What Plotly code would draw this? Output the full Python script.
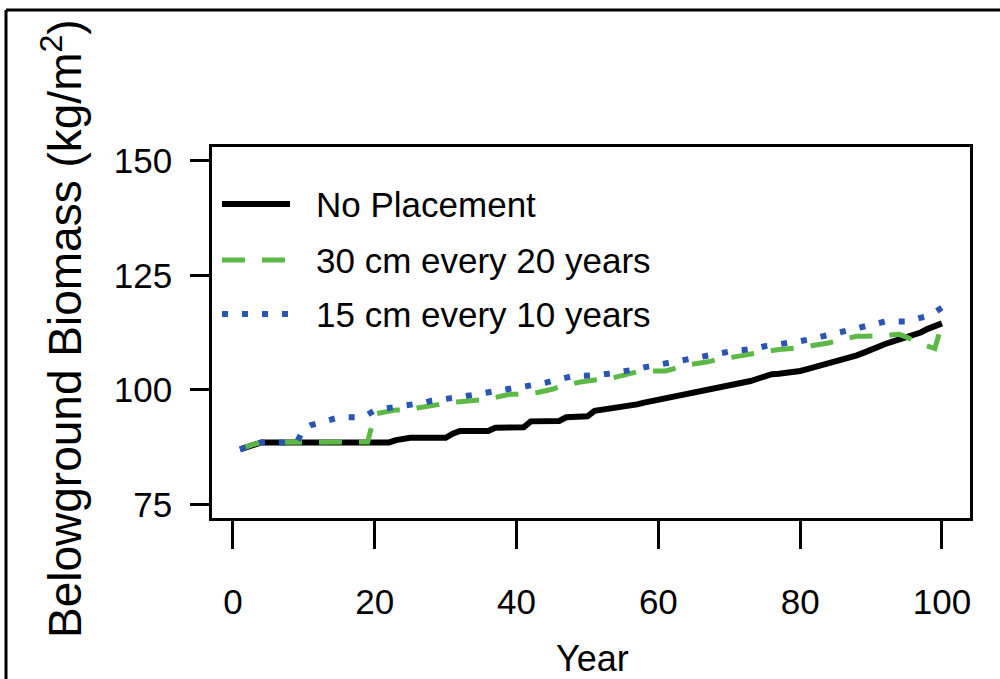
import plotly.graph_objects as go

years = list(range(1, 101))

no_placement = [
    87.0, 87.6, 88.1, 88.5, 88.5, 88.5, 88.5, 88.5, 88.5, 88.5,
    88.5, 88.5, 88.5, 88.5, 88.5, 88.5, 88.5, 88.5, 88.5, 88.5,
    88.5, 88.5, 89.0, 89.4, 89.5, 89.5, 89.5, 89.5, 89.5, 89.5,
    90.4, 91.0, 91.0, 91.0, 91.0, 91.0, 91.7, 91.7, 91.7, 91.7,
    91.8, 93.1, 93.1, 93.1, 93.1, 93.2, 94.0, 94.0, 94.0, 94.2,
    95.4, 95.6, 95.8, 96.0, 96.2, 96.4, 96.8, 97.2, 97.5, 97.8,
    98.2, 98.6, 98.9, 99.2, 99.5, 99.7, 99.9, 100.1, 100.4, 100.8,
    101.2, 101.6, 101.9, 102.4, 103.0, 103.4, 103.5, 103.6, 103.8, 104.1,
    104.5, 104.9, 105.3, 105.8, 106.3, 106.7, 107.1, 107.5, 108.1, 108.8,
    109.5, 110.0, 110.5, 111.0, 111.4, 111.8, 112.5, 113.3, 114.0, 114.5,
]

cm30_every20 = [
    87.0, 87.6, 88.1, 88.5, 88.5, 88.5, 88.5, 88.5, 88.5, 88.5,
    88.5, 88.5, 88.5, 88.5, 88.5, 88.5, 88.5, 88.5, 88.6, 94.7,
    95.0, 95.3, 95.6, 95.6, 95.6, 96.0, 96.3, 96.6, 96.9, 97.2,
    97.3, 97.4, 97.5, 97.6, 97.8, 97.9, 98.3, 98.7, 99.0, 99.0,
    99.0, 99.2, 99.4, 99.7, 100.1, 100.6, 101.0, 101.3, 101.7, 101.9,
    102.2, 102.3, 102.4, 102.8, 103.3, 103.7, 103.9, 104.1, 104.1, 104.1,
    104.1, 104.5, 105.1, 105.4, 105.6, 105.8, 106.1, 106.5, 106.7, 107.0,
    107.3, 107.5, 107.8, 108.1, 108.3, 108.6, 108.8, 108.9, 109.0, 109.2,
    109.4, 109.7, 109.9, 110.2, 110.6, 111.0, 111.4, 111.7, 111.7, 111.7,
    111.7, 111.8, 112.0, 112.1, 111.5, 110.6, 110.0, 109.5, 109.0, 114.4,
]

cm15_every10 = [
    87.0, 87.6, 88.1, 88.5, 88.5, 88.5, 88.5, 88.5, 88.5, 91.5,
    92.3, 92.7, 93.2, 93.7, 94.0, 94.0, 94.0, 94.0, 94.6, 95.5,
    95.8, 96.0, 96.1, 96.4, 96.6, 96.9, 97.2, 97.6, 97.9, 98.0,
    98.2, 98.4, 98.7, 99.0, 99.2, 99.5, 99.7, 99.9, 100.2, 100.4,
    100.6, 100.8, 101.1, 101.5, 101.9, 102.3, 102.7, 103.0, 103.0, 103.0,
    103.0, 103.3, 103.5, 103.7, 104.0, 104.2, 104.5, 104.9, 105.2, 105.4,
    105.7, 106.0, 106.3, 106.7, 107.0, 107.3, 107.6, 107.8, 108.1, 108.4,
    108.6, 108.7, 108.8, 109.1, 109.5, 109.8, 110.0, 110.2, 110.4, 110.6,
    110.8, 111.2, 111.6, 112.0, 112.4, 112.8, 113.1, 113.4, 113.7, 114.1,
    114.5, 114.9, 114.9, 114.9, 114.9, 115.3, 115.7, 116.1, 116.9, 117.9,
]

series_names = ["No Placement", "30 cm every 20 years", "15 cm every 10 years"]
x_ticks = [0, 20, 40, 60, 80, 100]
y_ticks = [75, 100, 125, 150]

BLACK = "#000000"
GREEN = "#5DB946"
BLUE = "#2A55B2"
FONT = "Liberation Sans, Arial, sans-serif"
FS = 35

fig = go.Figure()
styles = [
    dict(color=BLACK, width=6, dash="solid"),
    dict(color=GREEN, width=5, dash="23px,17px"),
    dict(color=BLUE, width=6, dash="6px,14px"),
]
for name, vals, st in zip(series_names, [no_placement, cm30_every20, cm15_every10], styles):
    fig.add_trace(go.Scatter(x=years, y=vals, mode="lines", name=name, line=st,
                             showlegend=False))

W, H = 1000, 679
L, R, T, B = 212, 30, 147, 161
pw, ph = W - L - R, H - T - B

def px(x):
    return (x - L) / pw

def py(y):
    return (H - B - y) / ph

shapes = []
annotations = []
# legend (manual, R-style, no box)
leg_rows = [204, 260, 314]
for name, st, ry in zip(series_names, styles, leg_rows):
    shapes.append(dict(type="line", xref="paper", yref="paper",
                       x0=px(222), x1=px(290), y0=py(ry), y1=py(ry),
                       line=dict(color=st["color"], width=st["width"], dash=st["dash"])))
    annotations.append(dict(text=name, xref="paper", yref="paper", x=px(314), y=py(ry),
                            xanchor="left", yanchor="middle", showarrow=False,
                            font=dict(family=FONT, size=FS, color="black")))

# outer frame (top and left edges of the cropped figure)
shapes.append(dict(type="line", xref="paper", yref="paper", x0=px(6), x1=px(1005),
                   y0=py(10), y1=py(10), line=dict(color="black", width=3)))
shapes.append(dict(type="line", xref="paper", yref="paper", x0=px(6), x1=px(6),
                   y0=py(10), y1=py(690), line=dict(color="black", width=3)))

annotations.append(dict(text="Year", xref="paper", yref="paper", x=px(592), y=py(658),
                        xanchor="center", yanchor="middle", showarrow=False,
                        font=dict(family=FONT, size=FS + 1, color="black")))
annotations.append(dict(text="Belowground Biomass (kg/m<sup>2</sup>)", xref="paper", yref="paper",
                        x=px(62), y=py(329), xanchor="center", yanchor="middle",
                        textangle=-90, showarrow=False,
                        font=dict(family=FONT, size=46, color="black")))

fig.update_layout(
    width=W, height=H,
    margin=dict(l=L, r=R, t=T, b=B, pad=0),
    paper_bgcolor="white", plot_bgcolor="white",
    shapes=shapes, annotations=annotations,
    showlegend=False,
    xaxis=dict(range=[-2.96, 103.96], tickvals=x_ticks, ticktext=[str(v) for v in x_ticks],
               showgrid=False, zeroline=False, showline=True, mirror=True,
               linecolor="black", linewidth=2.5, ticks="outside", ticklen=28,
               tickwidth=2.5, tickcolor="black", ticklabelstandoff=23,
               tickfont=dict(family=FONT, size=FS, color="black")),
    yaxis=dict(range=[72, 153], tickvals=y_ticks, ticktext=[str(v) for v in y_ticks],
               showgrid=False, zeroline=False, showline=True, mirror=True,
               linecolor="black", linewidth=2.5, ticks="outside", ticklen=19,
               tickwidth=2.5, tickcolor="black", ticklabelstandoff=11,
               tickfont=dict(family=FONT, size=FS, color="black")),
)

fig.write_html("out.html")
